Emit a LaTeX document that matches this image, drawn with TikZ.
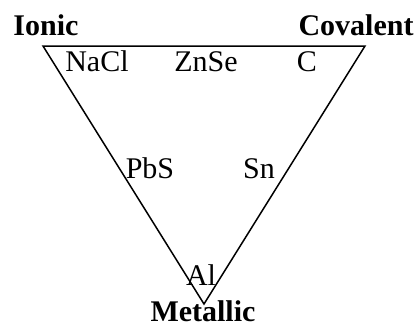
\documentclass[tikz,border=0pt]{standalone}
\usepackage{fontspec}
\setmainfont{Liberation Serif}
\usetikzlibrary{positioning}

\begin{document}
\begin{tikzpicture}[
    x=1bp, y=-1bp,
    corner/.style={font=\fontsize{30bp}{36bp}\selectfont\bfseries, inner sep=0pt, anchor=base},
    compound/.style={font=\fontsize{30bp}{36bp}\selectfont, inner sep=0pt, anchor=base},
    edge/.style={line width=1.5bp, line join=miter}
  ]
  \useasboundingbox (0,0) rectangle (416,326);

  % corners of the triangle
  \coordinate (ion) at (43,46);
  \coordinate (cov) at (365,46);
  \coordinate (met) at (204,304);
  \draw[edge] (ion) -- (cov) -- (met) -- cycle;

  % bond types
  \node[corner] (ionic) at (46,35) {Ionic};
  \node[corner] (covalent) at (356,35) {Covalent};
  \node[corner] (metallic) at (203,321) {Metallic};

  % examples
  \node[compound] (nacl) at (97,71) {NaCl};
  \node[compound] (znse) at (206,71) {ZnSe};
  \node[compound] (c) at (307,71) {C};
  \node[compound] (pbs) at (150,178) {PbS};
  \node[compound] (sn) at (259,178) {Sn};
  \node[compound] (al) at (201,285) {Al};
\end{tikzpicture}
\end{document}
